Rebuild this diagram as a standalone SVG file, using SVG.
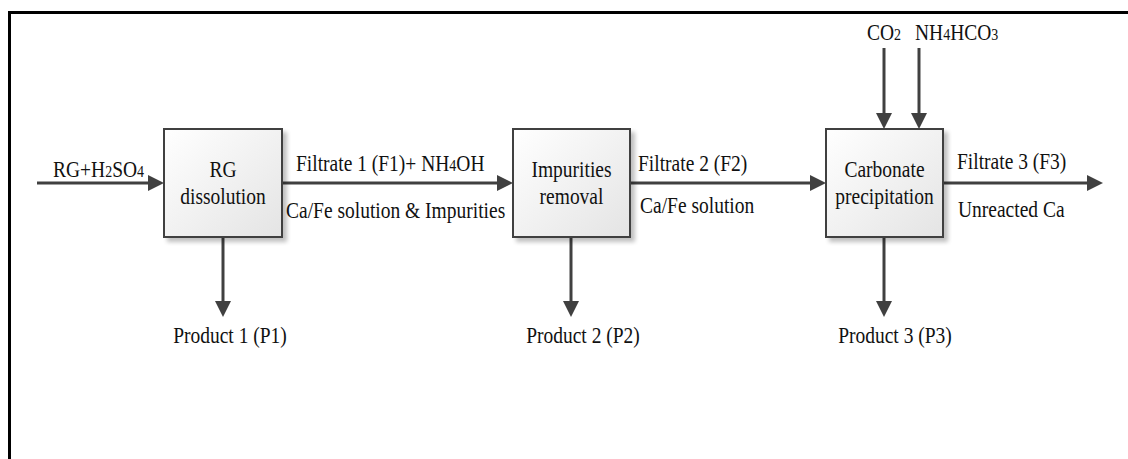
<svg xmlns="http://www.w3.org/2000/svg" width="1128" height="459" viewBox="0 0 1128 459" font-family="'Liberation Serif','Times New Roman',serif">
<style>
text{font-family:"Liberation Serif","Times New Roman",serif}
.t{font-size:19.5px;fill:#111}
.s{font-size:14px}
.box{fill:url(#g);stroke:#404040;stroke-width:2}
.ln{stroke:#404040;stroke-width:3;fill:none}
.ah{fill:#404040}
</style>
<defs>
<linearGradient id="g" x1="0" y1="0" x2="1" y2="1">
<stop offset="0" stop-color="#ffffff"/>
<stop offset="1" stop-color="#e4e4e4"/>
</linearGradient>
<filter id="sh" x="-10%" y="-10%" width="130%" height="130%">
<feGaussianBlur in="SourceAlpha" stdDeviation="2"/>
<feOffset dx="4" dy="4"/>
<feComponentTransfer><feFuncA type="linear" slope="0.25"/></feComponentTransfer>
<feMerge><feMergeNode/><feMergeNode in="SourceGraphic"/></feMerge>
</filter>
</defs>
<rect width="1128" height="459" fill="#fff"/>
<path d="M9.5 459 V12.5 H1128" stroke="#000" stroke-width="3" fill="none"/>

<g id="connectors">
<line class="ln" x1="37" y1="183" x2="150" y2="183"/>
<polygon class="ah" points="164,183 148,175 148,191"/>
<line class="ln" x1="282" y1="183" x2="499" y2="183"/>
<polygon class="ah" points="513,183 497,175 497,191"/>
<line class="ln" x1="630" y1="183" x2="812" y2="183"/>
<polygon class="ah" points="826,183 810,175 810,191"/>
<line class="ln" x1="943" y1="183" x2="1089" y2="183"/>
<polygon class="ah" points="1103,183 1087,175 1087,191"/>
<line class="ln" x1="223" y1="237" x2="223" y2="303"/>
<polygon class="ah" points="223,317 215,301 231,301"/>
<line class="ln" x1="571" y1="237" x2="571" y2="303"/>
<polygon class="ah" points="571,317 563,301 579,301"/>
<line class="ln" x1="884" y1="237" x2="884" y2="303"/>
<polygon class="ah" points="884,317 876,301 892,301"/>
<line class="ln" x1="884" y1="48" x2="884" y2="115"/>
<polygon class="ah" points="884,129 876,113 892,113"/>
<line class="ln" x1="919" y1="48" x2="919" y2="115"/>
<polygon class="ah" points="919,129 911,113 927,113"/>
</g>

<g id="node-rg-dissolution">
<rect class="box" x="164" y="129" width="118" height="108" filter="url(#sh)"/>
<text class="t" text-anchor="middle" transform="matrix(1,0,0,1.18,223,177)">RG</text>
<text class="t" text-anchor="middle" transform="matrix(1,0,0,1.18,223,204)">dissolution</text>
</g>
<g id="node-impurities-removal">
<rect class="box" x="513" y="129" width="117" height="108" filter="url(#sh)"/>
<text class="t" text-anchor="middle" transform="matrix(1,0,0,1.18,571.5,177)">Impurities</text>
<text class="t" text-anchor="middle" transform="matrix(1,0,0,1.18,571.5,204)">removal</text>
</g>
<g id="node-carbonate-precipitation">
<rect class="box" x="826" y="129" width="117" height="108" filter="url(#sh)"/>
<text class="t" text-anchor="middle" transform="matrix(1,0,0,1.18,884.5,177)">Carbonate</text>
<text class="t" text-anchor="middle" transform="matrix(1,0,0,1.18,884.5,204)">precipitation</text>
</g>

<g id="labels">
<text class="t" transform="matrix(1,0,0,1.18,53,177)">RG+H<tspan class="s">2</tspan>SO<tspan class="s">4</tspan></text>
<text class="t" transform="matrix(1,0,0,1.18,296,171)">Filtrate 1 (F1)+ NH<tspan class="s">4</tspan>OH</text>
<text class="t" transform="matrix(1,0,0,1.18,286,218)">Ca/Fe solution &amp; Impurities</text>
<text class="t" transform="matrix(1,0,0,1.18,638,171)">Filtrate 2 (F2)</text>
<text class="t" transform="matrix(1,0,0,1.18,640,213)">Ca/Fe solution</text>
<text class="t" transform="matrix(1,0,0,1.18,957,169)">Filtrate 3 (F3)</text>
<text class="t" transform="matrix(1,0,0,1.18,958,217)">Unreacted Ca</text>
<text class="t" transform="matrix(1,0,0,1.18,867,40)">CO<tspan class="s">2</tspan></text>
<text class="t" transform="matrix(1,0,0,1.18,915,40)">NH<tspan class="s">4</tspan>HCO<tspan class="s">3</tspan></text>
<text class="t" text-anchor="middle" transform="matrix(1,0,0,1.18,230,343)">Product 1 (P1)</text>
<text class="t" text-anchor="middle" transform="matrix(1,0,0,1.18,583,343)">Product 2 (P2)</text>
<text class="t" text-anchor="middle" transform="matrix(1,0,0,1.18,895,343)">Product 3 (P3)</text>
</g>
</svg>
